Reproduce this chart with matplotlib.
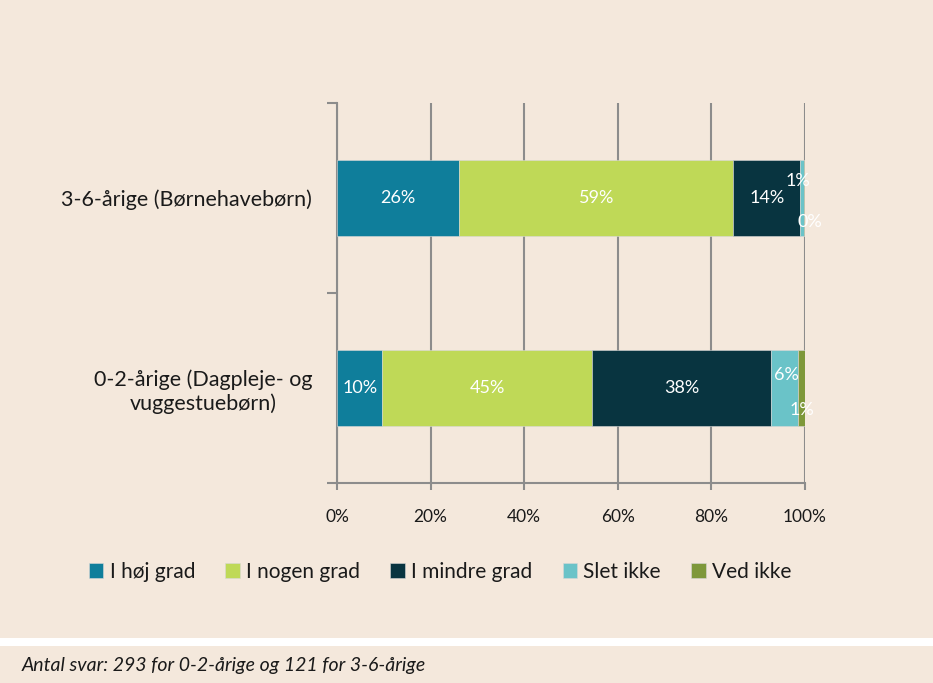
import matplotlib.pyplot as plt
import numpy as np
from matplotlib.patches import Rectangle

plt.rcParams['font.family'] = ['Lato', 'DejaVu Sans']

categories = ['0-2-årige (Dagpleje- og\nvuggestuebørn)', '3-6-årige (Børnehavebørn)']
series = ['I høj grad', 'I nogen grad', 'I mindre grad', 'Slet ikke', 'Ved ikke']
colors = ['#0F7E9B', '#BFD957', '#083440', '#6AC3C8', '#7E983A']
# percentages per category (rows follow categories)
values = np.array([
    [9.7, 44.8, 38.2, 5.9, 1.4],
    [26.1, 58.6, 14.3, 0.8, 0.2],
])
labels = [
    ['10%', '45%', '38%', '6%', '1%'],
    ['26%', '59%', '14%', '1%', '0%'],
]
# nudges for labels on the thin segments (x in %, y in category units)
label_dx = [[0, 0, 0, 0.3, 0.0], [0, 0, 0, -0.9, 1.2]]
label_dy = [[0, 0, 0, 0.07, -0.118], [0, 0, 0, 0.09, -0.126]]
footer = 'Antal svar: 293 for 0-2-årige og 121 for 3-6-årige'

bg = '#F4E8DC'
grey = '#8C8C8C'

fig = plt.figure(figsize=(9.33, 6.83), dpi=100, facecolor=bg)
ax = fig.add_axes([337 / 933, 1 - 483 / 683, 468 / 933, 380 / 683])
ax.set_facecolor(bg)

y = np.arange(len(categories))
left = np.zeros(len(categories))
for j, name in enumerate(series):
    ax.barh(y, values[:, j], left=left, height=0.405, color=colors[j],
            label=name, zorder=3, edgecolor='#d8d8d8', linewidth=0.4)
    for i in range(len(categories)):
        cx = left[i] + values[i, j] / 2 + label_dx[i][j]
        cy = y[i] + label_dy[i][j]
        ax.text(cx, cy, labels[i][j], ha='center', va='center', color='white',
                fontsize=13, zorder=4)
    left += values[:, j]

ax.set_xlim(0, 100)
ax.set_ylim(-0.5, 1.5)
ax.set_xticks(np.arange(0, 101, 20))
ax.set_xticklabels([f'{v}%' for v in range(0, 101, 20)], fontsize=12.5, color='#1a1a1a')
ax.tick_params(axis='x', length=5, width=1.5, color=grey, pad=14)

ax.set_yticks([-0.5, 0.5, 1.5])
ax.set_yticklabels([])
ax.tick_params(axis='y', which='major', length=7, width=1.5, color=grey)
ax.set_yticks(y, minor=True)
ax.set_yticklabels(categories, minor=True, fontsize=15.5, color='#1a1a1a',
                   multialignment='center')
ax.tick_params(axis='y', which='minor', length=0, pad=18)

ax.grid(axis='x', color=grey, linewidth=1.5, zorder=0)
ax.set_axisbelow(True)
for s in ['top', 'right']:
    ax.spines[s].set_visible(False)
for s in ['left', 'bottom']:
    ax.spines[s].set_color(grey)
    ax.spines[s].set_linewidth(1.5)

fig.legend(loc='center', bbox_to_anchor=(440 / 933, 1 - 572 / 683), ncol=5,
           frameon=False, fontsize=15, handlelength=0.7, handleheight=0.7,
           handletextpad=0.3, columnspacing=1.45, labelcolor='#1a1a1a')

fig.patches.append(Rectangle((0, 1 - 646 / 683), 1, 8 / 683, transform=fig.transFigure,
                             facecolor='white', edgecolor='none'))
fig.text(22 / 933, 1 - 665 / 683, footer, ha='left', va='center', fontsize=14,
         style='italic', color='#1a1a1a')

fig.savefig('out.png', dpi=100, facecolor=bg)
